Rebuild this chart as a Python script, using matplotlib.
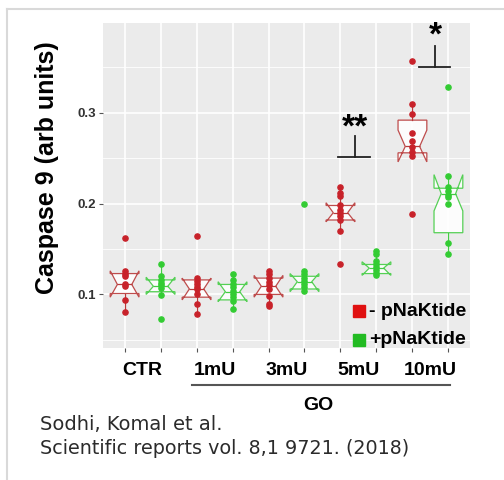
import matplotlib.pyplot as plt
from matplotlib.patches import Rectangle
from matplotlib.lines import Line2D

plt.rcParams['font.family'] = ['Liberation Sans', 'DejaVu Sans']

groups = ['CTR', '1mU', '3mU', '5mU', '10mU']

# individual points
red_points = [
    [0.162, 0.126, 0.123, 0.120, 0.111, 0.109, 0.094, 0.081],
    [0.164, 0.118, 0.115, 0.112, 0.108, 0.106, 0.101, 0.089, 0.079],
    [0.126, 0.122, 0.118, 0.114, 0.110, 0.106, 0.098, 0.090, 0.087],
    [0.218, 0.212, 0.208, 0.198, 0.193, 0.190, 0.186, 0.182, 0.170, 0.133],
    [0.357, 0.310, 0.299, 0.278, 0.269, 0.262, 0.257, 0.253, 0.189],
]
green_points = [
    [0.134, 0.120, 0.116, 0.113, 0.110, 0.107, 0.099, 0.073],
    [0.122, 0.116, 0.112, 0.108, 0.104, 0.100, 0.097, 0.093, 0.084],
    [0.200, 0.126, 0.122, 0.118, 0.115, 0.112, 0.108, 0.104],
    [0.148, 0.144, 0.137, 0.133, 0.130, 0.127, 0.124, 0.121],
    [0.329, 0.231, 0.218, 0.214, 0.210, 0.207, 0.200, 0.157, 0.144],
]

# notched box stats
red_q1 = [0.101, 0.097, 0.100, 0.182, 0.256]
red_med = [0.111, 0.106, 0.109, 0.190, 0.263]
red_q3 = [0.123, 0.116, 0.118, 0.198, 0.292]
red_cilo = [0.097, 0.094, 0.097, 0.180, 0.246]
red_cihi = [0.126, 0.118, 0.121, 0.201, 0.281]
red_wlo = [0.081, 0.079, 0.087, 0.170, 0.253]
red_whi = [0.126, 0.118, 0.126, 0.218, 0.310]

green_q1 = [0.103, 0.094, 0.106, 0.123, 0.168]
green_med = [0.109, 0.103, 0.114, 0.129, 0.211]
green_q3 = [0.116, 0.111, 0.120, 0.133, 0.217]
green_cilo = [0.100, 0.092, 0.103, 0.121, 0.192]
green_cihi = [0.119, 0.114, 0.123, 0.136, 0.232]
green_wlo = [0.099, 0.084, 0.104, 0.121, 0.144]
green_whi = [0.134, 0.122, 0.126, 0.148, 0.231]

RED = '#c8222a'
GREEN = '#33cc33'


def make_stats(q1, med, q3, cilo, cihi, wlo, whi):
    out = []
    for i in range(len(q1)):
        out.append({'q1': q1[i], 'med': med[i], 'q3': q3[i], 'cilo': cilo[i],
                    'cihi': cihi[i], 'whislo': wlo[i], 'whishi': whi[i], 'fliers': []})
    return out


fig = plt.figure(figsize=(5.04, 4.8), dpi=100)
ax = fig.add_axes([103 / 504, 1 - 348 / 480, 367 / 504, 325 / 480])
ax.set_facecolor('#ebebeb')

red_pos = [1, 3, 5, 7, 9]
green_pos = [2, 4, 6, 8, 10]

for stats, pos, col in [
    (make_stats(red_q1, red_med, red_q3, red_cilo, red_cihi, red_wlo, red_whi), red_pos, '#b83a3a'),
    (make_stats(green_q1, green_med, green_q3, green_cilo, green_cihi, green_wlo, green_whi), green_pos, '#44cc44'),
]:
    ax.bxp(stats, positions=pos, widths=0.8, shownotches=True, patch_artist=True,
           showfliers=False, showcaps=False,
           boxprops=dict(facecolor='white', edgecolor=col, linewidth=0.9, alpha=0.9),
           medianprops=dict(color=col, linewidth=0.9),
           whiskerprops=dict(color=col, linewidth=0.9), zorder=3)

for i in range(len(groups)):
    ax.scatter([red_pos[i]] * len(red_points[i]), red_points[i], s=14, color=RED, zorder=4)
    ax.scatter([green_pos[i]] * len(green_points[i]), green_points[i], s=14, color=GREEN, zorder=4)

# significance brackets
ax.plot([6.93, 7.82], [0.251, 0.251], color='#222222', lw=1.3, zorder=5)
ax.plot([7.41, 7.41], [0.251, 0.274], color='#222222', lw=1.3, zorder=5)
ax.text(7.41, 0.283, '**', ha='center', va='center', fontsize=24, fontweight='bold')
ax.plot([9.19, 10.05], [0.351, 0.351], color='#222222', lw=1.3, zorder=5)
ax.plot([9.63, 9.63], [0.351, 0.374], color='#222222', lw=1.3, zorder=5)
ax.text(9.63, 0.385, '*', ha='center', va='center', fontsize=24, fontweight='bold')

ax.set_xlim(0.4, 10.6)
ax.set_ylim(0.041, 0.399)
ax.set_xticks(range(1, 11))
ax.set_xticklabels([''] * 10)
ax.set_xticks([1.5, 3.5, 5.5, 7.5, 9.5], minor=True)
ax.set_xticklabels(groups, minor=True, fontsize=14, fontweight='bold')
ax.tick_params(axis='x', which='minor', length=0, pad=10)
ax.tick_params(axis='x', which='major', length=3, color='#555555')
ax.set_yticks([0.1, 0.2, 0.3])
ax.set_yticklabels(['0.1', '0.2', '0.3'], fontsize=9.5, fontweight='bold', color='#333333')
ax.set_yticks([0.05, 0.15, 0.25, 0.35], minor=True)
ax.tick_params(axis='y', which='major', length=3, pad=2, color='#555555')
ax.tick_params(axis='y', which='minor', length=0)
ax.grid(True, which='major', color='white', lw=1.2)
ax.grid(True, which='minor', axis='y', color='white', lw=0.6)
ax.set_axisbelow(True)
for s in ax.spines.values():
    s.set_visible(False)

# legend
fig.add_artist(Rectangle((353 / 504, 1 - 317 / 480), 12 / 504, 12 / 480,
                         transform=fig.transFigure, color='#e01010'))
fig.add_artist(Rectangle((353 / 504, 1 - 346 / 480), 12 / 504, 12 / 480,
                         transform=fig.transFigure, color='#22bb22'))
fig.text(369 / 504, 1 - 311 / 480, '- pNaKtide', fontsize=14, fontweight='bold', va='center')
fig.text(369 / 504, 1 - 340 / 480, '+pNaKtide', fontsize=14, fontweight='bold', va='center')

fig.text(47 / 504, 1 - 168 / 480, 'Caspase 9 (arb units)', rotation=90, fontsize=18,
         fontweight='bold', ha='center', va='center')

fig.add_artist(Line2D([192 / 504, 450 / 504], [1 - 385 / 480] * 2, transform=fig.transFigure,
                      color='#555555', lw=1.5))
fig.text(318 / 504, 1 - 405 / 480, 'GO', fontsize=14, fontweight='bold', ha='center', va='center')

fig.text(40 / 504, 1 - 425 / 480, 'Sodhi, Komal et al.', fontsize=14, color='#2b2b2b',
         family='DejaVu Sans', va='center')
fig.text(40 / 504, 1 - 448 / 480, 'Scientific reports vol. 8,1 9721. (2018)', fontsize=13.8,
         color='#2b2b2b', family='DejaVu Sans', va='center')

# card border
fig.add_artist(Line2D([6.5 / 504, 1], [1 - 8.5 / 480] * 2, transform=fig.transFigure,
                      color='#d9d9d9', lw=1.5))
fig.add_artist(Line2D([6.5 / 504] * 2, [0, 1 - 8.5 / 480], transform=fig.transFigure,
                      color='#d9d9d9', lw=1.5))

fig.savefig('out.png', dpi=100)
